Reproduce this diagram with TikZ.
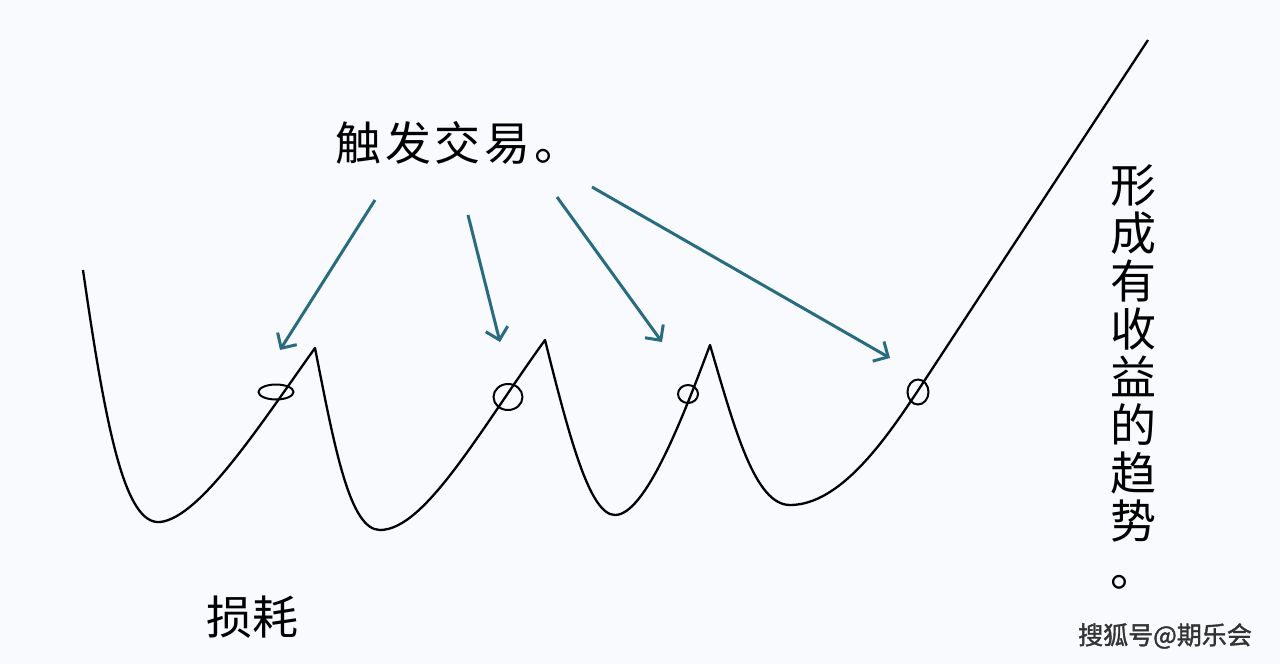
\documentclass[tikz,border=0pt]{standalone}
\usepackage{fontspec}
\newfontfamily\cjk{Noto Sans CJK SC}
\newfontfamily\cjkwide[LetterSpace=8]{Noto Sans CJK SC}
\newfontfamily\cjkbold[FakeBold=1.5]{Noto Sans CJK SC}
\usetikzlibrary{arrows.meta,shapes.geometric,positioning}
\definecolor{paper}{RGB}{248,250,253}
\definecolor{teal}{RGB}{40,108,128}

\begin{document}
\begin{tikzpicture}[x=1pt,y=-1pt,
    ring/.style={draw,ellipse,line width=2pt,inner sep=0pt},
    hint/.style={teal,line width=3pt,-{Straight Barb[angle=90:16pt]}},
    label/.style={font=\cjk\fontsize{46}{48}\selectfont,inner sep=0pt}]
      \fill[paper] (0,0) rectangle (1280,664);
      \useasboundingbox (0,0) rectangle (1280,664);
      % price curve
      \draw[line width=2.3pt,line join=round]
      (83,270) .. controls (106,430) and (125,525) .. (160,522)
      .. controls (200,518) and (260,425) .. (315,348)
      .. controls (335,450) and (350,530) .. (380,530)
      .. controls (425,530) and (480,430) .. (545,340)
      .. controls (570,440) and (590,515) .. (615,515)
      .. controls (645,515) and (682,420) .. (710,345)
      .. controls (735,430) and (755,505) .. (790,505)
      .. controls (840,505) and (885,440) .. (917,392)
      -- (1148,40);
      % trigger points
      \node [ring,minimum width=35pt,minimum height=15pt] (p1) at (276,392) {};
      \node [ring,minimum width=29pt,minimum height=26pt] (p2) at (508,397) {};
      \node [ring,minimum width=20pt,minimum height=18pt] (p3) at (688,394) {};
      \node [ring,minimum width=21pt,minimum height=25pt] (p4) at (918,392) {};
      % texts
      \node [label,font=\cjkwide\fontsize{46}{48}\selectfont] (trade) at (458,143)
      {触发交易。};
      \node [label,align=center] (trend) at (1133,377)
      {形\\成\\有\\收\\益\\的\\趋\\势\\。};
      \node [label] (loss) at (252,617) {损耗};
      \node [font=\cjkbold\fontsize{25}{25}\selectfont,black!80,inner sep=0pt]
      (mark) at (1165,636) {搜狐号@期乐会};
      % arrows
      \coordinate (t1) at (375,200); \coordinate (h1) at (280,350);
      \coordinate (t2) at (468,215); \coordinate (h2) at (500,342);
      \coordinate (t3) at (557,197); \coordinate (h3) at (662,342);
      \coordinate (t4) at (592,187); \coordinate (h4) at (890,358);
      \draw[hint] (t1) -- (h1);
      \draw[hint] (t2) -- (h2);
      \draw[hint] (t3) -- (h3);
      \draw[hint] (t4) -- (h4);
\end{tikzpicture}
\end{document}
